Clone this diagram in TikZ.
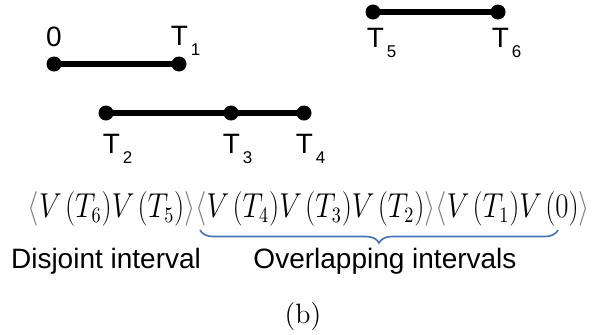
\documentclass[tikz,border=0pt]{standalone}
\usepackage{amsmath}
\usepackage{graphicx}
\usepackage{fontspec}
\usetikzlibrary{decorations.pathreplacing}

\newfontfamily\labelfont{Liberation Sans}
\newcommand{\tsub}[1]{T\kern1.5pt\raisebox{-5pt}{\fontsize{8.5}{9}\selectfont #1}}
\newcommand{\lang}{{\color{gray}\langle}}
\newcommand{\rang}{{\color{gray}\rangle}}
\newcommand{\val}[1]{V\mkern2mu(#1)}
\definecolor{braceblue}{RGB}{68,114,180}

\begin{document}
\begin{tikzpicture}[x=0.5pt,y=0.5pt,
    dot/.style={circle,fill=black,inner sep=0pt,minimum size=7.5pt},
    seg/.style={line width=2.7pt,shorten <=-1.5pt,shorten >=-1.5pt},
    lab/.style={anchor=base,inner sep=0pt,font={\labelfont\fontsize{14}{16}\selectfont}},
    tlab/.style={lab,anchor=base west,xshift=-4.3pt}]
    \useasboundingbox (0,0) rectangle (592,334);
    % interval end points
    \node[dot] (p0) at (54,270) {};
    \node[dot] (t1) at (179,270) {};
    \node[dot] (t2) at (106,221) {};
    \node[dot] (t3) at (231,221) {};
    \node[dot] (t4) at (304,221) {};
    \node[dot] (t5) at (373,322) {};
    \node[dot] (t6) at (498,322) {};
    \draw[seg] (p0) -- (t1);
    \draw[seg] (t2) -- (t3);
    \draw[seg] (t3) -- (t4);
    \draw[seg] (t5) -- (t6);
    % labels
    \node[lab] (l0) at (54,288) {0};
    \node[tlab] (l1) at (179,289) {\tsub{1}};
    \node[tlab] (l2) at (111,181) {\tsub{2}};
    \node[tlab] (l3) at (231,181) {\tsub{3}};
    \node[tlab] (l4) at (304,181) {\tsub{4}};
    \node[tlab] (l5) at (375,287) {\tsub{5}};
    \node[tlab] (l6) at (500,287) {\tsub{6}};
    % sequence
    \node[anchor=base,inner sep=0pt,font=\fontsize{16}{18}\selectfont] (seq) at (309,117)
        {\resizebox{281pt}{\height}{$\lang\val{T_6}\val{T_5}\rang\lang\val{T_4}\val{T_3}\val{T_2}\rang\lang\val{T_1}\val{0}\rang$}};
    \coordinate (bl) at (200,104);
    \coordinate (br) at (558,104);
    \draw[braceblue,line width=0.8pt,decorate,decoration={brace,mirror,amplitude=6.5pt}] (bl) -- (br);
    \node[lab] (disj) at (106,66) {Disjoint interval};
    \node[lab] (over) at (385,66) {Overlapping intervals};
    \node[anchor=base,inner sep=0pt,font=\fontsize{14}{16}\selectfont] (cap) at (303,11) {(b)};
\end{tikzpicture}
\end{document}
